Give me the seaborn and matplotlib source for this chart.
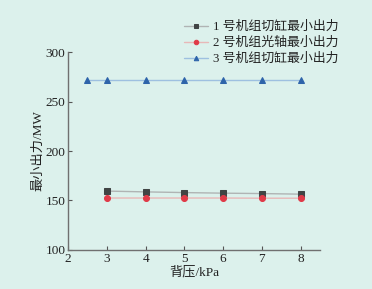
import matplotlib
matplotlib.use("Agg")
import matplotlib.pyplot as plt
import seaborn as sns
import pandas as pd

sns.set_style("ticks")
plt.rcParams['font.family'] = ['Liberation Serif', 'Noto Sans CJK SC']
plt.rcParams['axes.unicode_minus'] = False

x1 = [3, 4, 5, 6, 7, 8]
y1 = [159.5, 158.7, 158.0, 157.4, 157.0, 156.4]
x2 = [3, 4, 5, 6, 7, 8]
y2 = [152.5, 152.5, 152.5, 152.5, 152.3, 152.3]
x3 = [2.5, 3, 4, 5, 6, 7, 8]
y3 = [271.5, 271.5, 271.5, 271.5, 271.5, 271.5, 271.5]
labels = ["1 号机组切缸最小出力", "2 号机组光轴最小出力", "3 号机组切缸最小出力"]

bg = "#dcf1ec"
fig = plt.figure(figsize=(3.72, 2.89), dpi=100, facecolor=bg)
ax = fig.add_axes([0.183, 0.135, 0.677, 0.685], facecolor=bg)

styles = [
    dict(xs=x1, ys=y1, lc="#b0b4b4", mc="#404444", m="s"),
    dict(xs=x2, ys=y2, lc="#e8b8b8", mc="#e03a48", m="o"),
    dict(xs=x3, ys=y3, lc="#9ec0e0", mc="#2e64aa", m="^"),
]
for s, lab in zip(styles, labels):
    df = pd.DataFrame({"x": s["xs"], "y": s["ys"]})
    sns.lineplot(data=df, x="x", y="y", ax=ax, color=s["lc"], lw=1.0,
                 marker=s["m"], markersize=4.3, markerfacecolor=s["mc"],
                 markeredgecolor=s["mc"], label=lab, legend=False)

ax.set_xlim(2, 8.5)
ax.set_ylim(100, 300)
ax.set_xticks([2, 3, 4, 5, 6, 7, 8])
ax.set_yticks([100, 150, 200, 250, 300])
for sp in ["top", "right"]:
    ax.spines[sp].set_visible(False)
for sp in ["left", "bottom"]:
    ax.spines[sp].set_color("#707070")
    ax.spines[sp].set_linewidth(1.0)
ax.tick_params(direction="in", length=3, width=0.8, color="#555555",
               labelsize=9.5, labelcolor="#222222", pad=2)
ax.set_xlabel("背压/kPa", fontsize=9.5, color="#222222", labelpad=1)
ax.set_ylabel("最小出力/MW", fontsize=9.5, color="#222222", labelpad=1)

h, l = ax.get_legend_handles_labels()
fig.legend(h, l, loc="upper left", bbox_to_anchor=(0.482, 0.945),
           frameon=False, fontsize=9.3, handlelength=1.8, handletextpad=0.4,
           labelspacing=0.3, borderaxespad=0, labelcolor="#222222",
           markerscale=0.75)

fig.savefig("out.png", dpi=100, facecolor=bg)
